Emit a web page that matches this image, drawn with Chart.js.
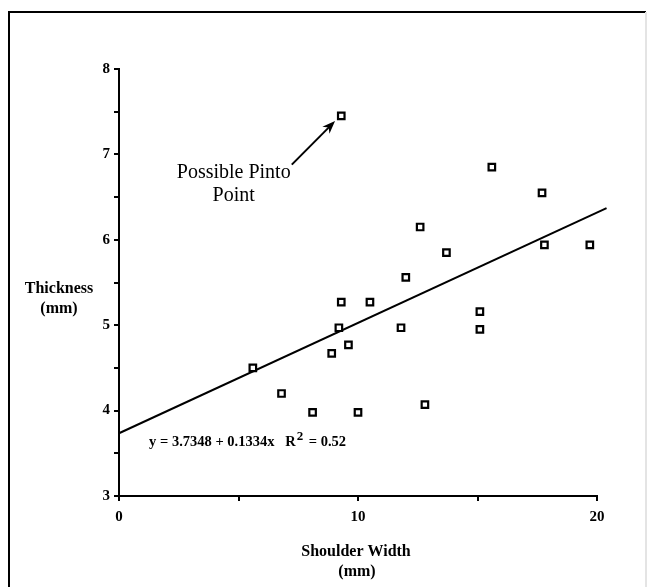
<!DOCTYPE html>
<html>
<head>
<meta charset="utf-8">
<script src="https://cdn.jsdelivr.net/npm/chart.js@4/dist/chart.umd.min.js"></script>
<style>
  html, body { margin: 0; padding: 0; background: #fff; }
  #wrap { position: relative; width: 649px; height: 587px; }
</style>
</head>
<body>
<div id="wrap"><canvas id="scatterChart"></canvas></div>
<script>
// measured points (shoulder width mm, thickness mm)
const shoulderWidth = [5.6, 6.8, 8.1, 8.9, 9.2, 9.3, 9.3, 9.6, 10.0, 10.5, 11.8, 12.0, 12.6, 12.8, 13.7, 15.1, 15.1, 15.6, 17.7, 17.8, 19.7];
const thickness = [4.5, 4.2, 3.98, 4.67, 4.97, 5.27, 7.45, 4.77, 3.98, 5.27, 4.97, 5.56, 6.15, 4.07, 5.85, 5.16, 4.95, 6.85, 6.55, 5.94, 5.94];

// regression line as drawn
const fitX = [0, 20.4];
const fitY = [3.7348, 6.37];

const xLabels = [0, 10, 20];
const yLabels = [3, 4, 5, 6, 7, 8];

const equation = ['y = 3.7348 + 0.1334x   R', '2', ' = 0.52'];
const note = ['Possible Pinto', 'Point'];
const xTitle = ['Shoulder Width', '(mm)'];
const yTitle = ['Thickness', '(mm)'];

const serif = "'Liberation Serif', 'Times New Roman', serif";

const decorations = {
    id: 'decorations',
    afterDraw(chart) {
        const ctx = chart.ctx;
        const xs = chart.scales.x;
        const ys = chart.scales.y;
        ctx.save();

        // frame
        ctx.strokeStyle = '#000';
        ctx.lineWidth = 2;
        ctx.beginPath();
        ctx.moveTo(9, 600);
        ctx.lineTo(9, 12);
        ctx.lineTo(646, 12);
        ctx.stroke();
        ctx.strokeStyle = '#e4e4e4';
        ctx.beginPath();
        ctx.moveTo(646, 12);
        ctx.lineTo(646, 600);
        ctx.stroke();

        ctx.fillStyle = '#000';
        ctx.textAlign = 'center';
        ctx.textBaseline = 'middle';

        // axis titles
        ctx.font = 'bold 16px ' + serif;
        ctx.fillText(yTitle[0], 59, 289);
        ctx.fillText(yTitle[1], 59, 309);
        ctx.fillText(xTitle[0], 356, 552);
        ctx.fillText(xTitle[1], 357, 572);

        // note + arrow
        ctx.font = '20px ' + serif;
        const nx = xs.getPixelForValue(4.8);
        ctx.fillText(note[0], nx, ys.getPixelForValue(6.79));
        ctx.fillText(note[1], nx, ys.getPixelForValue(6.52));

        const x0 = xs.getPixelForValue(7.23), y0 = ys.getPixelForValue(6.88);
        const x1 = xs.getPixelForValue(9.04), y1 = ys.getPixelForValue(7.39);
        const ang = Math.atan2(y1 - y0, x1 - x0);
        ctx.strokeStyle = '#000';
        ctx.lineWidth = 2;
        ctx.beginPath();
        ctx.moveTo(x0, y0);
        ctx.lineTo(x1 - 6 * Math.cos(ang), y1 - 6 * Math.sin(ang));
        ctx.stroke();
        ctx.beginPath();
        ctx.moveTo(x1, y1);
        ctx.lineTo(x1 - 13 * Math.cos(ang) + 5 * Math.sin(ang), y1 - 13 * Math.sin(ang) - 5 * Math.cos(ang));
        ctx.lineTo(x1 - 9 * Math.cos(ang), y1 - 9 * Math.sin(ang));
        ctx.lineTo(x1 - 13 * Math.cos(ang) - 5 * Math.sin(ang), y1 - 13 * Math.sin(ang) + 5 * Math.cos(ang));
        ctx.closePath();
        ctx.fill();

        // regression equation
        ctx.textAlign = 'left';
        ctx.textBaseline = 'alphabetic';
        let ex = xs.getPixelForValue(1.26);
        const ey = ys.getPixelForValue(3.58);
        ctx.font = 'bold 14.5px ' + serif;
        ctx.fillText(equation[0], ex, ey);
        ex += ctx.measureText(equation[0]).width;
        ctx.font = 'bold 13px ' + serif;
        ctx.fillText(equation[1], ex + 1, ey - 6);
        ex += ctx.measureText(equation[1]).width + 3;
        ctx.font = 'bold 14.5px ' + serif;
        ctx.fillText(equation[2], ex, ey);

        ctx.restore();
    }
};

const ctx = document.getElementById('scatterChart').getContext('2d');
const chart = new Chart(ctx, {
    type: 'scatter',
    data: {
        datasets: [{
            label: 'Points',
            data: shoulderWidth.map((x, i) => ({ x: x, y: thickness[i] })),
            pointStyle: 'rect',
            pointRadius: 4.6,
            pointBorderWidth: 2.2,
            borderColor: '#000',
            backgroundColor: '#fff'
        }, {
            type: 'line',
            label: 'Fit',
            data: fitX.map((x, i) => ({ x: x, y: fitY[i] })),
            borderColor: '#000',
            borderWidth: 2,
            pointRadius: 0,
            fill: false,
            clip: false
        }]
    },
    options: {
        responsive: true,
        maintainAspectRatio: false,
        animation: false,
        layout: { padding: { top: 69, right: 52, left: 0, bottom: 0 } },
        plugins: {
            legend: { display: false },
            tooltip: { enabled: false }
        },
        scales: {
            x: {
                type: 'linear',
                min: 0,
                max: 20,
                afterFit: scale => { scale.height = 91; },
                border: { color: '#000', width: 2 },
                grid: { drawOnChartArea: false, color: '#000', lineWidth: 2, tickLength: 5 },
                ticks: {
                    stepSize: 5,
                    autoSkip: false,
                    maxRotation: 0,
                    padding: 7,
                    color: '#000',
                    font: { family: serif, weight: 'bold', size: 15 },
                    callback: v => xLabels.includes(v) ? String(v) : ''
                }
            },
            y: {
                type: 'linear',
                min: 3,
                max: 8,
                afterFit: scale => { scale.width = 119; },
                border: { color: '#000', width: 2 },
                grid: { drawOnChartArea: false, color: '#000', lineWidth: 2, tickLength: 5 },
                ticks: {
                    stepSize: 0.5,
                    autoSkip: false,
                    padding: 4,
                    color: '#000',
                    font: { family: serif, weight: 'bold', size: 15 },
                    callback: v => yLabels.includes(v) ? String(v) : ''
                }
            }
        }
    },
    plugins: [decorations]
});
</script>
</body>
</html>
